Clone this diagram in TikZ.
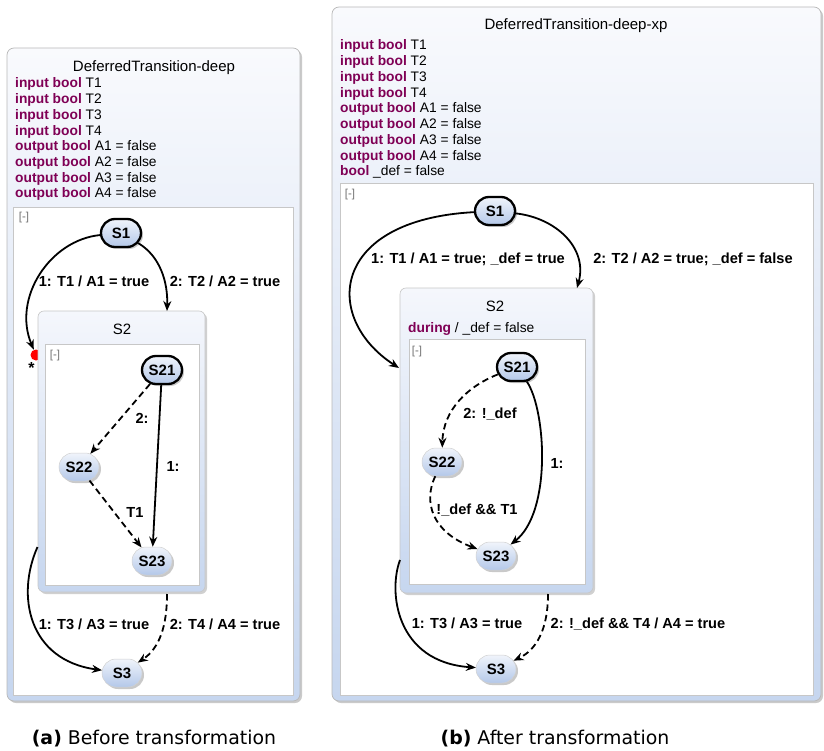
\documentclass[tikz,border=0pt]{standalone}
\usepackage{fontspec}
\setmainfont{Liberation Sans}
\newfontfamily\capfont{DejaVu Sans}
\usetikzlibrary{shapes.misc,shadows,arrows.meta}
\definecolor{kw}{HTML}{7F0055}
\definecolor{frameblue}{HTML}{C6D6EF}
\definecolor{headtop}{HTML}{F9FAFD}
\definecolor{stTop}{HTML}{F0F4FB}
\definecolor{stBot}{HTML}{B4C8E9}
\definecolor{boxtop}{HTML}{F5F7FC}
\begin{document}
\begin{tikzpicture}[x=1pt,y=-1pt,
  panel/.style={draw=black!28, line width=0.7pt, rounded corners=7pt, top color=headtop, bottom color=frameblue, inner sep=0pt,
    drop shadow={shadow xshift=2pt, shadow yshift=-2pt, opacity=0.35, fill=black!60}},
  sbox/.style={draw=black!22, line width=0.6pt, rounded corners=6pt, top color=boxtop, bottom color=frameblue, inner sep=0pt,
    drop shadow={shadow xshift=2pt, shadow yshift=-2pt, opacity=0.3, fill=black!60}},
  whitearea/.style={draw=black!22, line width=0.6pt, fill=white, inner sep=0pt},
  plain/.style={inner sep=0pt, font=\fontsize{13.8}{16}\selectfont},
  decl/.style={plain, anchor=base west},
  ttl/.style={inner sep=0pt, font=\fontsize{15}{17}\selectfont, text height=10.7pt, text depth=0pt},
  coll/.style={inner sep=0pt, font=\fontsize{11.5}{13}\selectfont, text=black!55, anchor=center},
  state/.style={rounded rectangle, minimum height=28pt, minimum width=44pt, inner xsep=2pt, inner ysep=0pt,
    text height=10.8pt, text depth=0pt, font=\bfseries\fontsize{15}{17}\selectfont,
    top color=stTop, bottom color=stBot, draw=black!18, line width=0.5pt,
    drop shadow={shadow xshift=2pt, shadow yshift=-2pt, opacity=0.35, fill=black!60}},
  initstate/.style={state, draw=black, line width=2.3pt},
  trans/.style={line width=1.8pt, -{Stealth[length=10pt,width=8pt]}},
  dtrans/.style={trans, dash pattern=on 6.5pt off 4pt},
  lbl/.style={inner sep=0pt, font=\bfseries\fontsize{14.6}{17}\selectfont, text height=10.5pt, text depth=0pt, anchor=center},
  captxt/.style={inner sep=0pt, font=\capfont\fontsize{18.9}{22}\selectfont, text height=13.8pt, text depth=0pt, anchor=center}
]
\useasboundingbox (0,0) rectangle (824,751);

%% ================= LEFT PANEL =================
\node[panel, minimum width=293pt, minimum height=653pt] (LP) at (153.5,374.5) {};
\node[ttl] (LT) at (154,66) {DeferredTransition-deep};
\foreach \k/\v [count=\i] in {input bool/T1, input bool/T2, input bool/T3, input bool/T4,
  output bool/A1 = false, output bool/A2 = false, output bool/A3 = false, output bool/A4 = false}
  \node[decl] (LD\i) at (15,{88+(\i-1)*15.7}) {\textcolor{kw}{\bfseries \k} \v};
\node[whitearea, minimum width=280pt, minimum height=488pt] (LW) at (153,451) {};
\node[coll] (LC1) at (24,218) {[-]};

\node[circle, fill=red, inner sep=0pt, minimum size=11pt] (hist) at (36,355) {};
\node[inner sep=0pt, font=\bfseries\fontsize{16}{16}\selectfont] (star) at (31.5,368) {*};

\node[sbox, minimum width=167pt, minimum height=281pt] (LS2) at (121.5,451.5) {};
\node[ttl] (LS2t) at (122,329) {S2};
\node[whitearea, minimum width=154pt, minimum height=241pt] (LS2w) at (122,464.5) {};
\node[coll] (LC2) at (55,356) {[-]};

\node[initstate] (LS1) at (121,233) {S1};
\node[initstate] (LS21) at (162,370) {S21};
\node[state] (LS22) at (79,467) {S22};
\node[state] (LS23) at (152,561) {S23};
\node[state] (LS3) at (122,673) {S3};

\coordinate (La2) at (167,311);
\coordinate (La3) at (37.5,547);
\coordinate (La4) at (167,594);

\draw[trans] (LS1) .. controls (50,240) and (12,298) .. (hist);
\draw[trans] (LS1) .. controls (160,256) and (168,282) .. (La2);
\draw[dtrans] (LS21) -- (LS22);
\draw[trans] (LS21) -- (LS23);
\draw[dtrans] (LS22) -- (LS23);
\draw[trans] (La3) .. controls (16,595) and (28,660) .. (LS3);
\draw[dtrans] (La4) .. controls (167,625) and (160,648) .. (LS3);

\node[lbl] (Ll1) at (94,281) {1: T1 / A1 = true};
\node[lbl] (Ll2) at (225,281) {2: T2 / A2 = true};
\node[lbl] (Ll3) at (142,418) {2:};
\node[lbl] (Ll4) at (173,466) {1:};
\node[lbl] (Ll5) at (135,512) {T1};
\node[lbl] (Ll6) at (94,624) {1: T3 / A3 = true};
\node[lbl] (Ll7) at (225,624) {2: T4 / A4 = true};

%% ================= RIGHT PANEL =================
\node[panel, minimum width=489pt, minimum height=694pt] (RP) at (576.5,354) {};
\node[ttl] (RT) at (576,24) {DeferredTransition-deep-xp};
\foreach \k/\v [count=\i] in {input bool/T1, input bool/T2, input bool/T3, input bool/T4,
  output bool/A1 = false, output bool/A2 = false, output bool/A3 = false, output bool/A4 = false, bool/\_def = false}
  \node[decl] (RD\i) at (340,{50+(\i-1)*15.75}) {\textcolor{kw}{\bfseries \k} \v};
\node[whitearea, minimum width=473pt, minimum height=512pt] (RW) at (576.5,439) {};
\node[coll] (RC1) at (350,195) {[-]};

\node[sbox, minimum width=193pt, minimum height=305pt] (RS2) at (496.5,440.5) {};
\node[ttl] (RS2t) at (495,306) {S2};
\node[decl] (RS2d) at (408,332) {\textcolor{kw}{\bfseries during} / \_def = false};
\node[whitearea, minimum width=176pt, minimum height=245pt] (RS2w) at (497,461.5) {};
\node[coll] (RC2) at (417,352) {[-]};

\node[initstate] (RS1) at (495,211) {S1};
\node[initstate] (RS21) at (517,367) {S21};
\node[state] (RS22) at (442,462) {S22};
\node[state] (RS23) at (496,556) {S23};
\node[state] (RS3) at (496,669) {S3};

\coordinate (Rb1) at (399,368);
\coordinate (Rb2) at (577,288);
\coordinate (Rb3) at (400,560);
\coordinate (Rb4) at (548,594);

\draw[trans] (RS1) .. controls (330,220) and (322,318) .. (Rb1);
\draw[trans] (RS1) .. controls (556,218) and (588,248) .. (Rb2);
\draw[dtrans] (RS21) .. controls (468,386) and (443,410) .. (RS22);
\draw[trans] (RS21) .. controls (546,410) and (552,512) .. (RS23);
\draw[dtrans] (RS22) .. controls (423,502) and (432,532) .. (RS23);
\draw[trans] (Rb3) .. controls (388,592) and (396,662) .. (RS3);
\draw[dtrans] (Rb4) .. controls (548,630) and (536,650) .. (RS3);

\node[lbl] (Rl1) at (468,258) {1: T1 / A1 = true; \_def = true};
\node[lbl] (Rl2) at (693,258) {2: T2 / A2 = true; \_def = false};
\node[lbl] (Rl3) at (490,413) {2: !\_def};
\node[lbl] (Rl4) at (557,463) {1:};
\node[lbl] (Rl5) at (477,509) {!\_def \&\& T1};
\node[lbl] (Rl6) at (467,623) {1: T3 / A3 = true};
\node[lbl] (Rl7) at (638,623) {2: !\_def \&\& T4 / A4 = true};

%% ================= CAPTIONS =================
\node[captxt] (capA) at (154,738) {\textbf{(a)} Before transformation};
\node[captxt] (capB) at (555,738) {\textbf{(b)} After transformation};
\end{tikzpicture}
\end{document}
